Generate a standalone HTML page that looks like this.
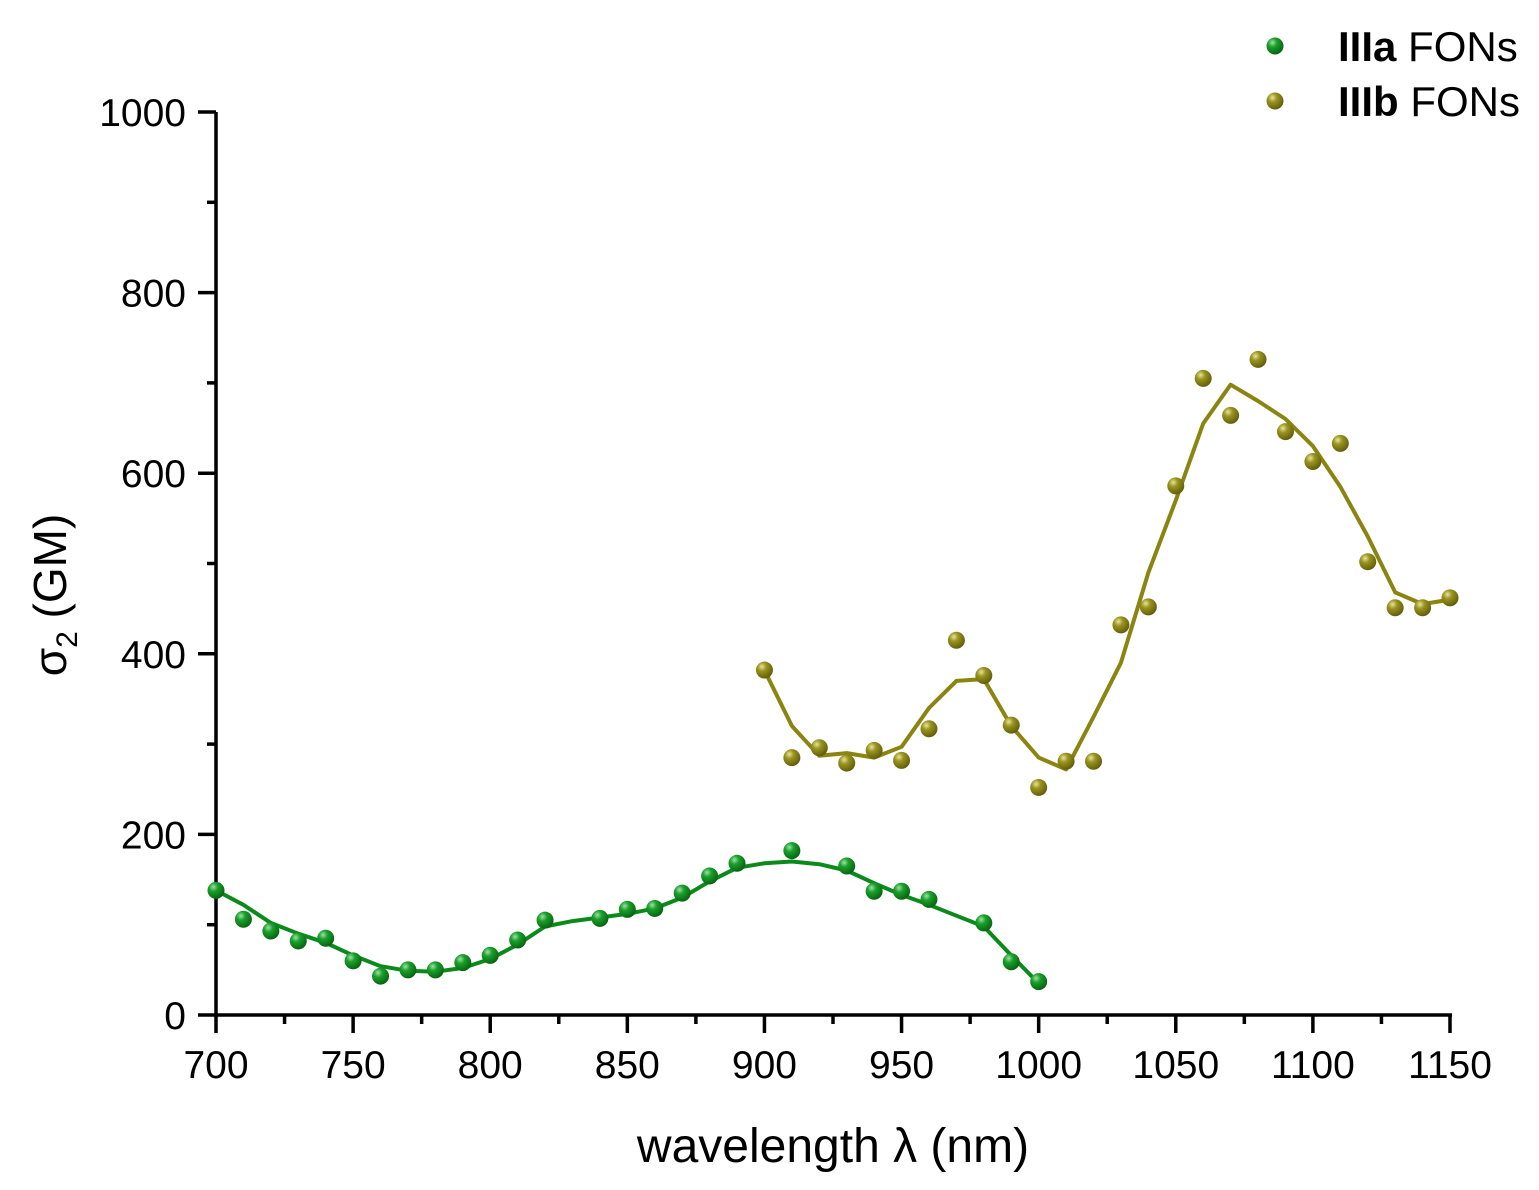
<!DOCTYPE html>
<html><head><meta charset="utf-8">
<style>
html,body{margin:0;padding:0;background:#fff;}
svg{display:block;font-family:"Liberation Sans",Arial,sans-serif;}
</style></head>
<body>
<svg id="chart" width="1539" height="1190" viewBox="0 0 1539 1190">
<defs>
<radialGradient id="gGreen" cx="0.35" cy="0.3" r="0.75">
<stop offset="0" stop-color="#9fe0a8"/><stop offset="0.35" stop-color="#1aa02a"/><stop offset="1" stop-color="#056010"/>
</radialGradient>
<radialGradient id="gOlive" cx="0.35" cy="0.3" r="0.75">
<stop offset="0" stop-color="#e8e49a"/><stop offset="0.35" stop-color="#9a9420"/><stop offset="1" stop-color="#5e5a08"/>
</radialGradient>
</defs>
<g id="plot"></g>
</svg>
<script>
const aX = [700,710,720,730,740,750,760,770,780,790,800,810,820,840,850,860,870,880,890,910,930,940,950,960,980,990,1000];
const aY = [138,106,93,82,85,60,43,50,50,58,66,83,105,107,117,118,135,154,168,182,165,137,137,128,102,59,37];
const aFitX = [700,710,720,730,740,750,760,770,780,790,800,810,820,830,840,850,860,870,880,890,900,910,920,930,940,950,960,970,980,990,1000];
const aFitY = [138,122,102,90,80,66,54,49,48,52,62,78,98,104,108,112,118,130,148,163,168,170,167,160,146,133,122,110,98,66,35];
const bX = [900,910,920,930,940,950,960,970,980,990,1000,1010,1020,1030,1040,1050,1060,1070,1080,1090,1100,1110,1120,1130,1140,1150];
const bY = [382,285,296,279,293,282,317,415,376,321,252,281,281,432,452,586,705,664,726,646,613,633,502,451,451,462];
const bFitY = [382,320,287,290,285,297,340,370,372,320,285,272,330,390,490,570,655,698,680,660,630,585,530,468,455,460];
const xTicks = [700,750,800,850,900,950,1000,1050,1100,1150];
const yTicks = [0,200,400,600,800,1000];

const NS="http://www.w3.org/2000/svg";
const X0=216,X1=1450,Y0=1015,Y1=112;
function sx(v){return X0+(v-700)/450*(X1-X0);}
function sy(v){return Y0-(v)/1000*(Y0-Y1);}
const plot=document.getElementById('plot');
function mk(tag,attrs,parent){const e=document.createElementNS(NS,tag);for(const k in attrs)e.setAttribute(k,attrs[k]);(parent||plot).appendChild(e);return e;}

let ax=mk('line',{x1:X0-1.5,y1:Y0,x2:X1+2,y2:Y0,stroke:'#000','stroke-width':3.5});


let ay=mk('line',{x1:X0,y1:Y0+1,x2:X0,y2:Y1,stroke:'#000','stroke-width':3.5});



for(let v=700;v<=1150;v+=25){
  const major=(v%50===0);
  const t=mk('line',{x1:sx(v),y1:Y0,x2:sx(v),y2:Y0+(major?18:9),stroke:'#000','stroke-width':3.5});
  
  
}
xTicks.forEach(v=>{
  const t=mk('text',{x:sx(v),y:Y0+63,'text-anchor':'middle','font-size':39,fill:'#000'});
  t.textContent=v;
  
  
});
for(let v=0;v<=1000;v+=100){
  const major=(v%200===0);
  const t=mk('line',{x1:X0,y1:sy(v),x2:X0-(major?18:9),y2:sy(v),stroke:'#000','stroke-width':3.5});
  
  
}
yTicks.forEach(v=>{
  const t=mk('text',{x:X0-30,y:sy(v)+14,'text-anchor':'end','font-size':39,fill:'#000'});
  t.textContent=v;
  
  
});

let xt=mk('text',{x:833,y:1162,'text-anchor':'middle','font-size':48,fill:'#000'});
xt.textContent='wavelength \u03bb (nm)';


let yt=mk('text',{transform:'translate(66,595) rotate(-90)','text-anchor':'middle','font-size':46,fill:'#000'});
yt.innerHTML='\u03c3<tspan font-size="30" dy="11">2</tspan><tspan dy="-11"> (GM)</tspan>';



function line(xs,ys,color,name){
  const d=xs.map((x,i)=>(i?'L':'M')+sx(x).toFixed(1)+','+sy(ys[i]).toFixed(1)).join(' ');
  const p=mk('path',{d:d,fill:'none',stroke:color,'stroke-width':4,'stroke-linejoin':'round'});
  
  
}
function pts(xs,ys,grad,name){
  xs.forEach((x,i)=>{
    const c=mk('circle',{cx:sx(x),cy:sy(ys[i]),r:8.5,fill:'url(#'+grad+')'});
    
    
  });
}
line(aFitX,aFitY,'#0b8a1c','iiia-fit-line');
line(bX,bFitY,'#8a8410','iiib-fit-line');
pts(aX,aY,'gGreen','iiia-point');
pts(bX,bY,'gOlive','iiib-point');

let lg=mk('g',{});


let l1=mk('circle',{cx:1275,cy:46,r:8.5,fill:'url(#gGreen)'},lg);


let t1=mk('text',{x:1338,y:61,'font-size':42,fill:'#000'},lg);
t1.innerHTML='<tspan font-weight="bold">IIIa</tspan> FONs';


let l2=mk('circle',{cx:1275,cy:101,r:8.5,fill:'url(#gOlive)'},lg);


let t2=mk('text',{x:1338,y:116,'font-size':42,fill:'#000'},lg);
t2.innerHTML='<tspan font-weight="bold">IIIb</tspan> FONs';


</script>
</body></html>
